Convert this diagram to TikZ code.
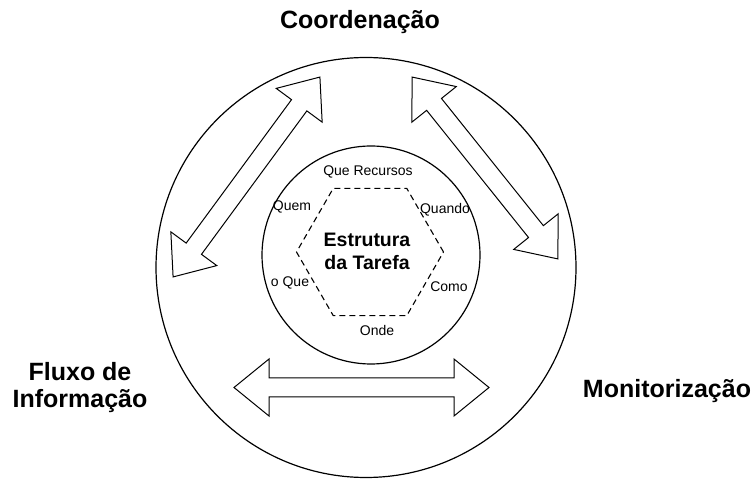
\documentclass[tikz,border=0pt]{standalone}
\usepackage{fontspec}
\setmainfont{Liberation Sans}
\usepackage{xcolor}
\usepackage{tikz}
\usetikzlibrary{calc}
\definecolor{bg}{HTML}{FFFFFF}
\definecolor{ink}{HTML}{000000}
\tikzset{
  ring/.style={draw=ink, line width=1.2pt},
  hexa/.style={draw=ink, line width=1.1pt, dash pattern=on 6pt off 4pt},
  blk/.style={draw=ink, fill=bg, line width=1pt, line join=miter},
  title/.style={text=ink, align=center, font=\fontsize{25}{27}\selectfont\bfseries},
  core/.style={text=ink, align=center, font=\fontsize{19.5}{23.5}\selectfont\bfseries},
  lab/.style={text=ink, inner sep=1pt, font=\fontsize{14}{16}\selectfont},
  pics/dblarrow/.style={code={
    \def\hl{35}\def\hw{28.5}\def\sw{9.5}
    \draw[blk] (-#1/2,0) -- (-#1/2+\hl,\hw) -- (-#1/2+\hl,\sw) -- (#1/2-\hl,\sw)
      -- (#1/2-\hl,\hw) -- (#1/2,0) -- (#1/2-\hl,-\hw) -- (#1/2-\hl,-\sw)
      -- (-#1/2+\hl,-\sw) -- (-#1/2+\hl,-\hw) -- cycle;
  }},
}
\begin{document}
\begin{tikzpicture}[x=1pt,y=1pt]
  \useasboundingbox[fill=bg] (0,0) rectangle (755,479);
  \coordinate (O) at (366,211.5);  % outer ring
  \coordinate (I) at (371,224);    % inner ring
  \coordinate (H) at (370,227);    % hexagon

  \draw[ring] (O) circle (210);
  \draw[ring] (I) circle (109);
  \draw[hexa] ($(H)+(0:73.5)$) -- ($(H)+(60:73.5)$) -- ($(H)+(120:73.5)$)
    -- ($(H)+(180:73.5)$) -- ($(H)+(240:73.5)$) -- ($(H)+(300:73.5)$) -- cycle;

  \node[core] (task) at (367,227.5) {Estrutura\\da Tarefa};
  \node[lab] (recursos) at (368,307) {Que Recursos};
  \node[lab] (quem) at (292,272) {Quem};
  \node[lab] (quando) at (445,269) {Quando};
  \node[lab] (oque) at (290,196) {o Que};
  \node[lab] (como) at (449,192) {Como};
  \node[lab] (onde) at (377,149) {Onde};

  \pic[rotate=53.7] at (246.5,302) {dblarrow=248};
  \pic[rotate=-51.3] at (485,311) {dblarrow=233};
  \pic at (361.5,91.5) {dblarrow=255};

  \node[title] (coord) at (360,457) {Coordenação};
  \node[title] (fluxo) at (80,91) {Fluxo de\\Informação};
  \node[title] (monit) at (667,88) {Monitorização};
\end{tikzpicture}
\end{document}
